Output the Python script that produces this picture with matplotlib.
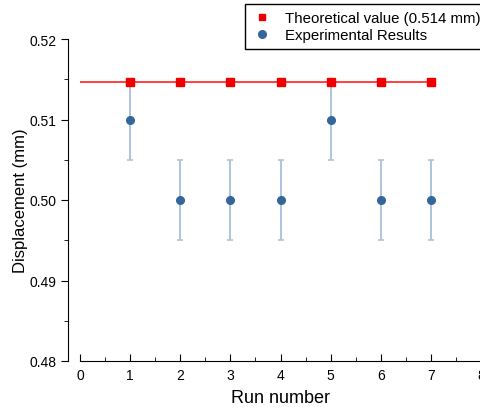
import matplotlib
matplotlib.use('Agg')
import matplotlib.pyplot as plt
from matplotlib.lines import Line2D
import numpy as np

# data
runs = [1, 2, 3, 4, 5, 6, 7]
theoretical = 0.5147
measured = [0.51, 0.50, 0.50, 0.50, 0.51, 0.50, 0.50]
errors = [0.005, 0.005, 0.005, 0.005, 0.005, 0.005, 0.005]
x_ticks = [0, 1, 2, 3, 4, 5, 6, 7, 8]
y_ticks = [0.48, 0.49, 0.50, 0.51, 0.52]

plt.rcParams['font.family'] = ['Liberation Sans', 'DejaVu Sans']

fig = plt.figure(figsize=(4.8, 4.1), dpi=100)
ax = fig.add_axes([80 / 480, 48 / 410, 401 / 480, 322 / 410])

# theoretical line from 0 to 7 with square markers at each run
ax.plot([0] + runs, [theoretical] * (len(runs) + 1), color='#ff2020', lw=1.2, zorder=3)
ax.plot(runs, [theoretical] * len(runs), ls='none', marker='s', ms=5.3,
        color='#ee0000', zorder=4)

ax.errorbar(runs, measured, yerr=errors, fmt='o', ms=5.5, color='#336699',
            ecolor='#adc4de', elinewidth=1.4, capsize=2.2, capthick=1.2,
            zorder=2)

ax.set_xlim(0, 8)
ax.set_ylim(0.48, 0.52)
ax.set_xticks(x_ticks)
ax.set_xticks(np.arange(0.5, 8, 1), minor=True)
ax.set_yticks(y_ticks)
ax.set_yticklabels(['{:.2f}'.format(v) for v in y_ticks])
ax.set_yticks(np.arange(0.485, 0.52, 0.01), minor=True)

ax.spines['top'].set_visible(False)
ax.spines['right'].set_visible(False)
ax.spines['left'].set_position(('outward', 8.6))
ax.tick_params(axis='y', which='major', direction='out', length=5, labelsize=10)
ax.tick_params(axis='y', which='minor', direction='out', length=3)
ax.tick_params(axis='x', which='major', direction='in', length=5, labelsize=10, pad=5)
ax.tick_params(axis='x', which='minor', direction='in', length=3)

ax.set_xlabel('Run number', fontsize=13, labelpad=5)
ax.set_ylabel('Displacement (mm)', fontsize=12, labelpad=0.5)

handles = [
    Line2D([], [], ls='none', marker='s', ms=5, color='#ee0000'),
    Line2D([], [], ls='none', marker='o', ms=5.5, color='#336699'),
]
labels = ['Theoretical value (0.514 mm)', 'Experimental Results']
leg = ax.legend(handles, labels, loc='upper left', bbox_to_anchor=(245 / 480, 1 - 5 / 410),
                bbox_transform=fig.transFigure, fontsize=10.8, frameon=True,
                fancybox=False, edgecolor='black', framealpha=1, borderaxespad=0,
                handlelength=1.4, handletextpad=0.8, borderpad=0.45, labelspacing=0.2)
leg.get_frame().set_linewidth(1.0)

fig.savefig('out.png', dpi=100)
